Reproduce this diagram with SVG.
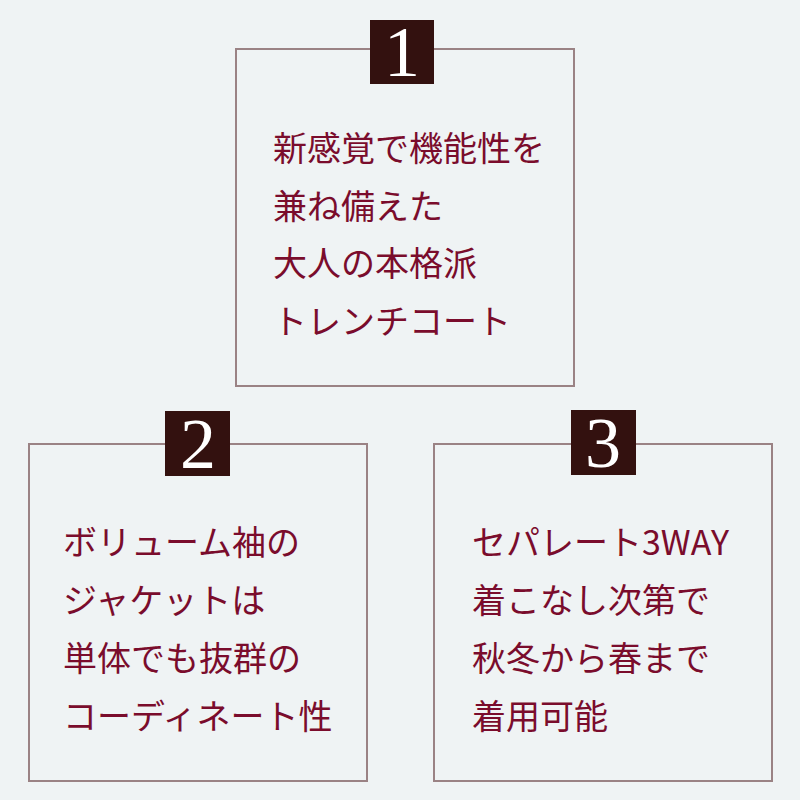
<svg xmlns="http://www.w3.org/2000/svg" width="800" height="800" viewBox="0 0 800 800">
<style>
.frame{fill:none;stroke:#9a8284;stroke-width:2}
.badge{fill:#33110f}
.num{font-family:"Liberation Serif",serif;font-size:72px;fill:#ffffff;text-anchor:middle}
.txt{font-family:"Noto Sans CJK JP",sans-serif;font-size:34px;fill:#7a0c2c}
</style>
<rect width="800" height="800" fill="#eff3f4"/>
<g id="node1">
<rect class="frame" x="236" y="49" width="338" height="337"/>
<rect class="badge" x="370" y="20" width="64" height="64"/>
<text class="num" x="402" y="76">1</text>
<text class="txt" x="273" y="161">新感覚で機能性を</text>
<text class="txt" x="273" y="219">兼ね備えた</text>
<text class="txt" x="273" y="276">大人の本格派</text>
<text class="txt" x="273" y="334">トレンチコート</text>
</g>
<g id="node2">
<rect class="frame" x="29" y="444" width="338" height="337"/>
<rect class="badge" x="165" y="411" width="65" height="65"/>
<text class="num" x="198" y="468">2</text>
<text class="txt" x="63" y="555">ボリューム袖の</text>
<text class="txt" x="63" y="613">ジャケットは</text>
<text class="txt" x="63" y="671">単体でも抜群の</text>
<text class="txt" x="63" y="729">コーディネート性</text>
</g>
<g id="node3">
<rect class="frame" x="434" y="444" width="338" height="337"/>
<rect class="badge" x="571" y="410" width="65" height="65"/>
<text class="num" x="603" y="467">3</text>
<text class="txt" x="472" y="555">セパレート3WAY</text>
<text class="txt" x="472" y="613">着こなし次第で</text>
<text class="txt" x="472" y="671">秋冬から春まで</text>
<text class="txt" x="472" y="729">着用可能</text>
</g>
<g id="connectors"></g>
</svg>
